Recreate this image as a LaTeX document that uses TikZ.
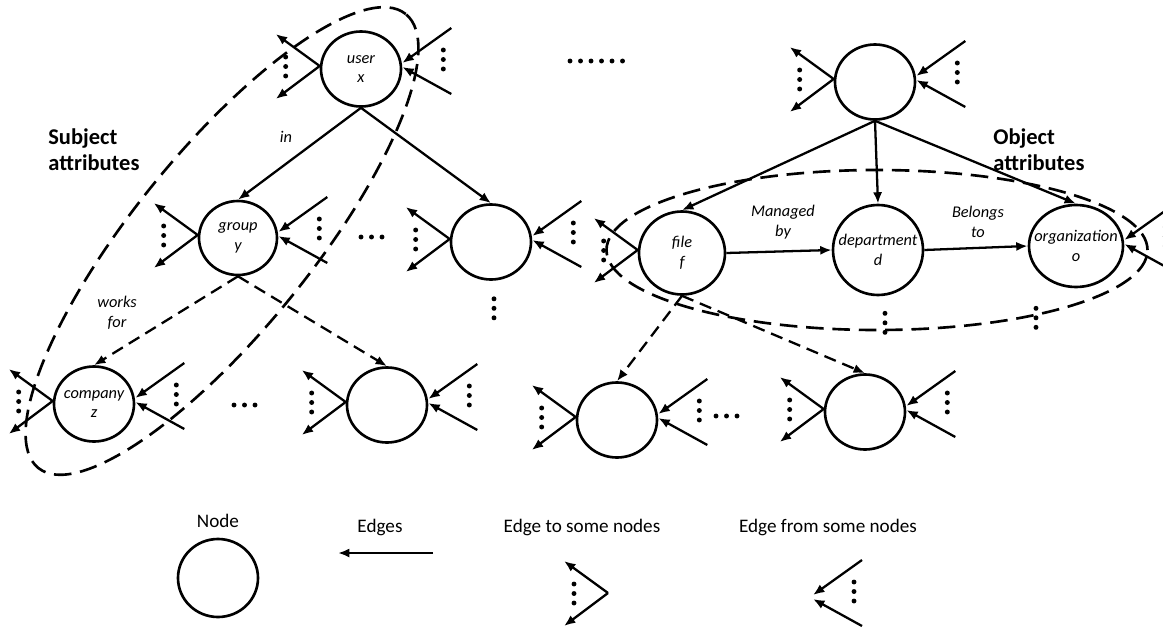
\documentclass[tikz,border=0pt]{standalone}
\usepackage{fontspec}
\setmainfont{Carlito}
\usepackage{tikz}
\usetikzlibrary{arrows.meta}
\usetikzlibrary{calc}
\usetikzlibrary{shapes.geometric}

\tikzset{
  attr/.style={draw, ellipse, line width=1.5pt, minimum width=16mm, minimum height=15mm, inner sep=0pt},
  link/.style={line width=1.3pt, -{Latex[length=6.5pt,width=5.2pt]}},
  dlink/.style={link, dash pattern=on 7pt off 4pt},
  attrset/.style={line width=1.5pt, dash pattern=on 10pt off 5pt},
  rel/.style={font=\itshape\fontsize{9.3}{11.3}\selectfont, align=center, inner sep=0pt},
  settitle/.style={font=\bfseries\fontsize{12.8}{14.7}\selectfont, align=left, anchor=west, inner sep=0pt},
  legtext/.style={font=\fontsize{10.9}{13}\selectfont, inner sep=0pt},
}

% three dots going down, n dots going right
\newcommand{\dotsdown}[3]{\foreach \k in {0,1,2} \fill ($(#1)+(#2,#3+\k*9.5)$) circle (1.4pt);}
\newcommand{\dotsright}[2]{\foreach \k in {1,...,#2} \fill ($(#1)+(\k*10.5-10.5,0)$) circle (1.4pt);}

% edges to some nodes (left) and from some nodes (right)
\newcommand{\outfan}[1]{
  \draw[link] ($(#1)+(0,-3)$) -- ++(-44,-32);
  \draw[link] ($(#1)+(0,-3)$) -- ++(-44,33);
  \dotsdown{#1}{-34}{-12}
}
\newcommand{\infan}[1]{
  \draw[link] ($(#1)+(49,-41)$) -- ($(#1)+(0,-6)$);
  \draw[link] ($(#1)+(49,25)$) -- ($(#1)+(0,-2)$);
  \dotsdown{#1}{41}{-19}
}

\begin{document}
\begin{tikzpicture}[x=0.2mm, y=-0.2mm]
  \useasboundingbox (0,0) rectangle (1163,627);

  % subject and object groups
  \draw[attrset] (222,241) ellipse [x radius=58.4mm, y radius=17.8mm, rotate=51];
  \draw[attrset] (877,250) ellipse [x radius=54.1mm, y radius=16mm];

  % attribute nodes
  \node[attr, label={[rel]center:user\\x}] (user) at (361,69) {};
  \node[attr, minimum width=15.6mm, minimum height=14.8mm, label={[rel]center:group\\y}] (grp) at (238,238) {};
  \node[attr] (mid) at (491,242) {};
  \node[attr, label={[rel]center:company\\z}] (comp) at (94,404) {};
  \node[attr] (bot2) at (387,405) {};
  \node[attr] (topr) at (875,82) {};
  \node[attr, minimum width=17.2mm, minimum height=16.6mm, label={[rel]center:file\\f}] (file) at (682,253) {};
  \node[attr, minimum width=18mm, minimum height=18mm, label={[rel]center:department\\d}] (dept) at (878,250) {};
  \node[attr, minimum width=18.8mm, minimum height=16.4mm, label={[rel]center:organization\\o}] (org) at (1076,246) {};
  \node[attr] (bot3) at (617,420) {};
  \node[attr] (bot4) at (865,412) {};

  \draw[link] (user.south) -- (grp.north);
  \draw[link] (user.south) -- (mid.north);
  \draw[dlink] (grp.south) -- (comp.north);
  \draw[dlink] (grp.south) -- (bot2.north);
  \draw[link] (topr.south) -- (file.north);
  \draw[link] (topr.south) -- (dept.north);
  \draw[link] (topr.south) -- (org.north);
  \draw[link] (file.east) -- (dept.west);
  \draw[link] (dept.east) -- (org.west);
  \draw[dlink] (file.south) -- (bot3.north);
  \draw[dlink] (file.south) -- (bot4.north);

  \node[rel] (inlbl) at (286,137) {in};
  \node[rel] (worklbl) at (117,313) {works\\for};
  \node[rel] (manlbl) at (783,222) {Managed\\by};
  \node[rel] (bellbl) at (978,222) {Belongs\\to};
  \node[settitle] (subj) at (48,150) {Subject\\attributes};
  \node[settitle] (obj) at (993,150) {Object\\attributes};

  \foreach \n in {user,grp,mid,comp,bot2,topr,file,bot3,bot4} {\outfan{\n.west}}
  \foreach \n in {user,grp,mid,comp,bot2,topr,org,bot3,bot4} {\infan{\n.east}}

  \dotsdown{mid.south}{3}{18}
  \dotsdown{dept.south}{7}{17}
  \dotsdown{org.south}{-40}{20}
  \dotsright{361,237}{3}
  \dotsright{234,405}{3}
  \dotsright{716,416}{3}
  \dotsright{570,61}{6}

  % legend
  \node[attr, minimum height=15.6mm] (legnode) at (218,578) {};
  \node[legtext] (legnodetxt) at (218,521) {Node};
  \coordinate (edgefrom) at (433,553);
  \coordinate (edgeto) at (338,553);
  \draw[link] (edgefrom) -- (edgeto);
  \node[legtext] (edgetxt) at (380,527) {Edges};
  \node[legtext] (totxt) at (582,527) {Edge to some nodes};
  \coordinate (legout) at (608,596);
  \outfan{legout}
  \node[legtext] (fromtxt) at (828,527) {Edge from some nodes};
  \coordinate (legin) at (813,601);
  \infan{legin}
\end{tikzpicture}
\end{document}
